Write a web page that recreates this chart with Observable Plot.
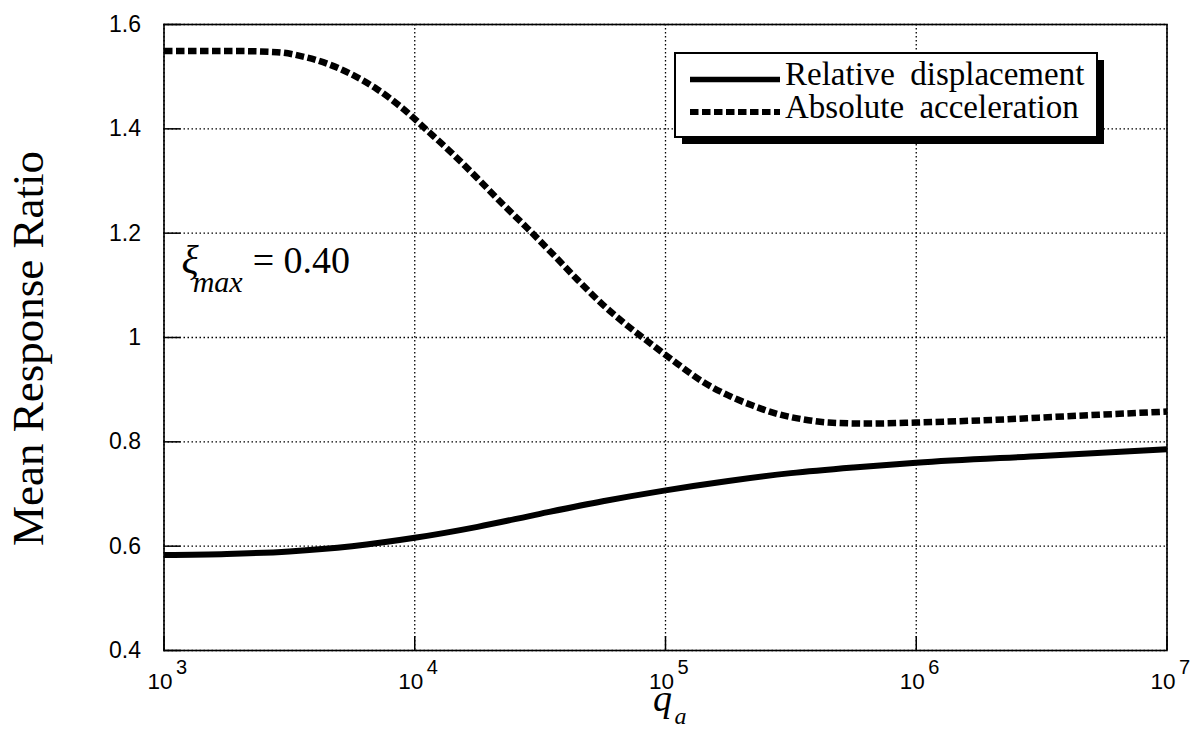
<!DOCTYPE html>
<html>
<head>
<meta charset="utf-8">
<script src="https://cdn.jsdelivr.net/npm/d3@7"></script>
<script src="https://cdn.jsdelivr.net/npm/@observablehq/plot@0.6"></script>
<style>
  html, body { margin: 0; padding: 0; background: white; }
  #chart { position: relative; width: 1197px; height: 730px; }
</style>
</head>
<body>
<div id="chart"></div>
<script>
// ---- data ----
const qAcc = [1000, 2000, 2820, 3550, 4470, 5620, 7080, 8910,
  11200, 14100, 17800, 22400, 28200, 35500, 44700, 56200, 70800, 89100,
  112000, 141000, 178000, 224000, 282000, 355000, 447000, 631000,
  1000000, 2000000, 3980000, 10000000];
const accel = [1.549, 1.549, 1.547, 1.539, 1.525, 1.504, 1.476, 1.440,
  1.397, 1.353, 1.305, 1.256, 1.209, 1.160, 1.110, 1.063, 1.022, 0.985,
  0.949, 0.915, 0.889, 0.869, 0.853, 0.843, 0.837, 0.835,
  0.837, 0.842, 0.849, 0.858];

const qDisp = [1000, 1780, 3160, 5620, 10000, 17800, 31600, 56200,
  100000, 178000, 316000, 562000, 1000000, 3160000, 10000000];
const disp = [0.583, 0.585, 0.590, 0.600, 0.616, 0.637, 0.662, 0.686,
  0.707, 0.725, 0.740, 0.751, 0.760, 0.773, 0.786];

const xTicks = [1e3, 1e4, 1e5, 1e6, 1e7];
const xTickBase = ["10", "10", "10", "10", "10"];
const xTickExp = ["3", "4", "5", "6", "7"];
const yTicks = [0.4, 0.6, 0.8, 1.0, 1.2, 1.4, 1.6];
const yTickLabels = ["0.4", "0.6", "0.8", "1", "1.2", "1.4", "1.6"];

const seriesNames = ["Relative displacement", "Absolute acceleration"];
const yLabel = "Mean Response Ratio";

const dispData = qDisp.map((q, i) => ({q, v: disp[i]}));
const accData = qAcc.map((q, i) => ({q, v: accel[i]}));

const serif = "'Liberation Serif', 'Times New Roman', serif";
const sans = "'Liberation Sans', Arial, Helvetica, sans-serif";
const dash = "8.5,3.5";

const chart = Plot.plot({
  width: 1197,
  height: 730,
  marginLeft: 163.5,
  marginRight: 30.5,
  marginTop: 24,
  marginBottom: 80,
  style: {fontFamily: sans, fontSize: "22px", color: "black", background: "white"},
  x: {type: "log", domain: [1e3, 1e7], axis: null},
  y: {domain: [0.4, 1.6]},
  marks: [
    Plot.gridX(xTicks, {stroke: "black", strokeOpacity: 1, strokeWidth: 1.3, strokeDasharray: "1.5,2.5"}),
    Plot.gridY(yTicks, {stroke: "black", strokeOpacity: 1, strokeWidth: 1.3, strokeDasharray: "1.5,2.5"}),
    Plot.ruleX(xTicks, {insetTop: 612, stroke: "black", strokeWidth: 1.5}),
    Plot.ruleY(yTicks, {insetRight: 986, stroke: "black", strokeWidth: 1.5}),
    Plot.line(dispData, {x: "q", y: "v", stroke: "black", strokeWidth: 6, strokeLinecap: "butt", curve: "monotone-x"}),
    Plot.line(accData, {x: "q", y: "v", stroke: "black", strokeWidth: 6.5, strokeLinecap: "butt",
      strokeDasharray: dash, curve: "monotone-x"}),
    Plot.frame({stroke: "black", strokeWidth: 1.6}),
    Plot.axisY(yTicks, {tickSize: 0, tickPadding: 23, label: null, fontSize: 23,
      tickFormat: d => yTickLabels[yTicks.indexOf(d)]}),
    Plot.text(xTicks, {x: d => d, frameAnchor: "bottom", text: (d, i) => xTickBase[i],
      textAnchor: "middle", lineAnchor: "middle", dx: -4, dy: 31, fontSize: 22.5}),
    Plot.text(xTicks, {x: d => d, frameAnchor: "bottom", text: (d, i) => xTickExp[i],
      textAnchor: "start", lineAnchor: "middle", dx: 12, dy: 17, fontSize: 20}),
    Plot.text([yLabel], {frameAnchor: "left", text: d => d, rotate: -90, textAnchor: "middle", lineAnchor: "middle",
      dx: -135, dy: 11, fontFamily: serif, fontSize: 45}),
    Plot.text(["q"], {frameAnchor: "bottom", text: d => d, textAnchor: "middle", lineAnchor: "middle",
      dx: -3, dy: 48, fontFamily: serif, fontStyle: "italic", fontSize: 38}),
    Plot.text(["a"], {frameAnchor: "bottom", text: d => d, textAnchor: "middle", lineAnchor: "middle",
      dx: 15, dy: 66, fontFamily: serif, fontStyle: "italic", fontSize: 24})
  ]
});
document.getElementById("chart").appendChild(chart);

// ---- annotation and legend drawn into the same SVG ----
const svg = d3.select(chart);
const xs = chart.scale("x"), ys = chart.scale("y");

const ann = svg.append("text")
  .attr("x", xs.apply(1e3) + 18)
  .attr("y", ys.apply(1.2) + 40)
  .attr("text-anchor", "start")
  .attr("font-family", serif)
  .attr("fill", "black");
ann.append("tspan").attr("font-style", "italic").attr("font-size", 40).text("ξ");
ann.append("tspan").attr("font-style", "italic").attr("font-size", 30).attr("dy", 19).attr("dx", -6).text("max");
ann.append("tspan").attr("font-size", 38).attr("dy", -19).attr("dx", 10).text("= 0.40");

const lg = svg.append("g").attr("class", "legend").attr("text-anchor", "start");
const bx = 675, by = 53, bw = 422, bh = 84;
lg.append("rect").attr("x", bx + 7).attr("y", by + 7).attr("width", bw).attr("height", bh).attr("fill", "black");
lg.append("rect").attr("x", bx).attr("y", by).attr("width", bw).attr("height", bh)
  .attr("fill", "white").attr("stroke", "black").attr("stroke-width", 2);
const rows = [
  {name: seriesNames[0], dash: null, lineY: 79.5, textY: 85},
  {name: seriesNames[1], dash: dash, lineY: 112, textY: 118}
];
rows.forEach(r => {
  lg.append("line").attr("x1", 690).attr("x2", 780).attr("y1", r.lineY).attr("y2", r.lineY)
    .attr("stroke", "black").attr("stroke-width", r.dash ? 6 : 5.5)
    .attr("stroke-dasharray", r.dash);
  lg.append("text").attr("x", 785).attr("y", r.textY)
    .attr("font-family", serif).attr("font-size", 33).attr("word-spacing", 7)
    .attr("fill", "black").text(r.name);
});
</script>
</body>
</html>
